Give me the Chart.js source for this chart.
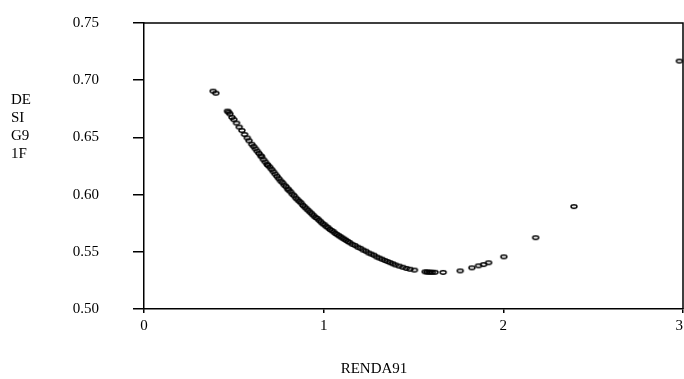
<!DOCTYPE html>
<html>
<head>
<meta charset="utf-8">
<script src="https://cdn.jsdelivr.net/npm/chart.js@4/dist/chart.umd.min.js"></script>
<style>
html,body{margin:0;padding:0;background:#fff;}
#wrap{position:relative;width:684px;height:379px;}
canvas{display:block;}
</style>
</head>
<body>
<div id="wrap"><canvas id="c" width="684" height="379"></canvas></div>
<script>
// Data
const rendaValues = [0.385,0.400,0.465,0.470,0.478,0.490,0.500,0.515,0.530,0.545,0.560,0.575,0.585,0.600,0.610,0.620,0.630,0.640,0.650,0.655,0.665,0.675,0.685,0.690,0.700,0.710,0.720,0.730,0.740,0.750,0.760,0.770,0.780,0.790,0.800,0.805,0.815,0.825,0.835,0.845,0.855,0.865,0.875,0.885,0.895,0.905,0.915,0.925,0.935,0.945,0.955,0.965,0.975,0.985,0.995,1.005,1.015,1.025,1.035,1.045,1.055,1.065,1.075,1.085,1.095,1.105,1.115,1.125,1.135,1.145,1.160,1.175,1.190,1.205,1.220,1.235,1.250,1.265,1.280,1.295,1.310,1.325,1.340,1.355,1.370,1.385,1.400,1.420,1.440,1.460,1.480,1.505,1.565,1.575,1.585,1.595,1.605,1.620,1.665,1.760,1.825,1.862,1.890,1.918,2.003,2.180,2.393,2.980];
const desigValues = [0.6904,0.6886,0.6730,0.6720,0.6705,0.6675,0.6655,0.6625,0.6590,0.6560,0.6525,0.6495,0.6470,0.6440,0.6420,0.6400,0.6380,0.6360,0.6340,0.6330,0.6305,0.6285,0.6265,0.6255,0.6240,0.6220,0.6200,0.6180,0.6160,0.6140,0.6120,0.6105,0.6085,0.6070,0.6050,0.6040,0.6025,0.6005,0.5990,0.5970,0.5955,0.5940,0.5925,0.5905,0.5890,0.5875,0.5860,0.5845,0.5830,0.5815,0.5800,0.5790,0.5775,0.5760,0.5745,0.5735,0.5720,0.5710,0.5695,0.5685,0.5675,0.5660,0.5650,0.5640,0.5630,0.5620,0.5610,0.5600,0.5590,0.5580,0.5565,0.5555,0.5540,0.5530,0.5515,0.5505,0.5490,0.5480,0.5470,0.5455,0.5445,0.5435,0.5425,0.5415,0.5405,0.5395,0.5385,0.5375,0.5365,0.5355,0.5348,0.5340,0.5325,0.5323,0.5322,0.5322,0.5321,0.5321,0.5320,0.5333,0.5360,0.5377,0.5388,0.5404,0.5456,0.5623,0.5895,0.7167];
const xTicks = [0, 1, 2, 3];
const yTicks = [0.50, 0.55, 0.60, 0.65, 0.70, 0.75];
const xTitle = "RENDA91";
const yTitleLines = ["DE", "SI", "G9", "1F"];

const FONT = "'Liberation Serif','Times New Roman',Times,serif";

// open ellipse marker
const marker = document.createElement('canvas');
marker.width = 10; marker.height = 7;
(function(){
  const m = marker.getContext('2d');
  m.strokeStyle = '#000';
  m.lineWidth = 1.4;
  m.beginPath();
  m.ellipse(5, 3.5, 3.0, 1.7, 0, 0, Math.PI * 2);
  m.stroke();
})();

const points = rendaValues.map((x, i) => ({x: x, y: desigValues[i]}));

const framePlugin = {
  id: 'frame',
  afterDraw(chart) {
    const ctx = chart.ctx;
    const a = chart.chartArea;
    ctx.save();
    ctx.strokeStyle = '#000';
    ctx.lineWidth = 1.5;
    ctx.beginPath();
    ctx.moveTo(a.left, a.top);
    ctx.lineTo(a.right, a.top);
    ctx.lineTo(a.right, a.bottom);
    ctx.stroke();
    ctx.fillStyle = '#000';
    ctx.font = '15px ' + FONT;
    ctx.textBaseline = 'middle';
    ctx.textAlign = 'left';
    yTitleLines.forEach((t, i) => ctx.fillText(t, 11, 100 + i * 18));
    ctx.textAlign = 'center';
    ctx.fillText(xTitle, 374, 369);
    // x tick labels
    const xs = chart.scales.x;
    xTicks.forEach(v => {
      const label = String(v);
      const w = ctx.measureText(label).width;
      let px = xs.getPixelForValue(v);
      px = Math.min(px, chart.width - w / 2 - 1);
      ctx.fillText(label, px, a.bottom + 17);
    });
    ctx.restore();
  }
};

new Chart(document.getElementById('c'), {
  type: 'scatter',
  data: {
    datasets: [{
      data: points,
      pointStyle: marker,
      pointRadius: 4,
      pointHoverRadius: 4,
      clip: false
    }]
  },
  options: {
    responsive: false,
    devicePixelRatio: 1,
    animation: false,
    events: [],
    layout: { autoPadding: false, padding: { left: 0, top: 23, right: 1, bottom: 0 } },
    plugins: { legend: { display: false }, tooltip: { enabled: false } },
    scales: {
      x: {
        type: 'linear',
        min: 0, max: 3,
        afterBuildTicks(s) { s.ticks = xTicks.map(v => ({value: v})); },
        afterFit(s) { s.height = 70; s.paddingLeft = 0; s.paddingRight = 0; },
        ticks: { display: false },
        grid: { drawOnChartArea: false, drawTicks: true, tickLength: 4, color: '#000', lineWidth: 1.5 },
        border: { display: true, color: '#000', width: 1.5 }
      },
      y: {
        type: 'linear',
        min: 0.5, max: 0.75,
        afterBuildTicks(s) { s.ticks = yTicks.map(v => ({value: v})); },
        afterFit(s) { s.width = 144; s.paddingTop = 0; s.paddingBottom = 0; },
        ticks: {
          color: '#000', padding: 34,
          font: { family: FONT, size: 15 },
          callback: v => Number(v).toFixed(2)
        },
        grid: { drawOnChartArea: false, drawTicks: true, tickLength: 11, color: '#000', lineWidth: 1.5 },
        border: { display: true, color: '#000', width: 1.5 }
      }
    }
  },
  plugins: [framePlugin]
});
</script>
</body>
</html>
